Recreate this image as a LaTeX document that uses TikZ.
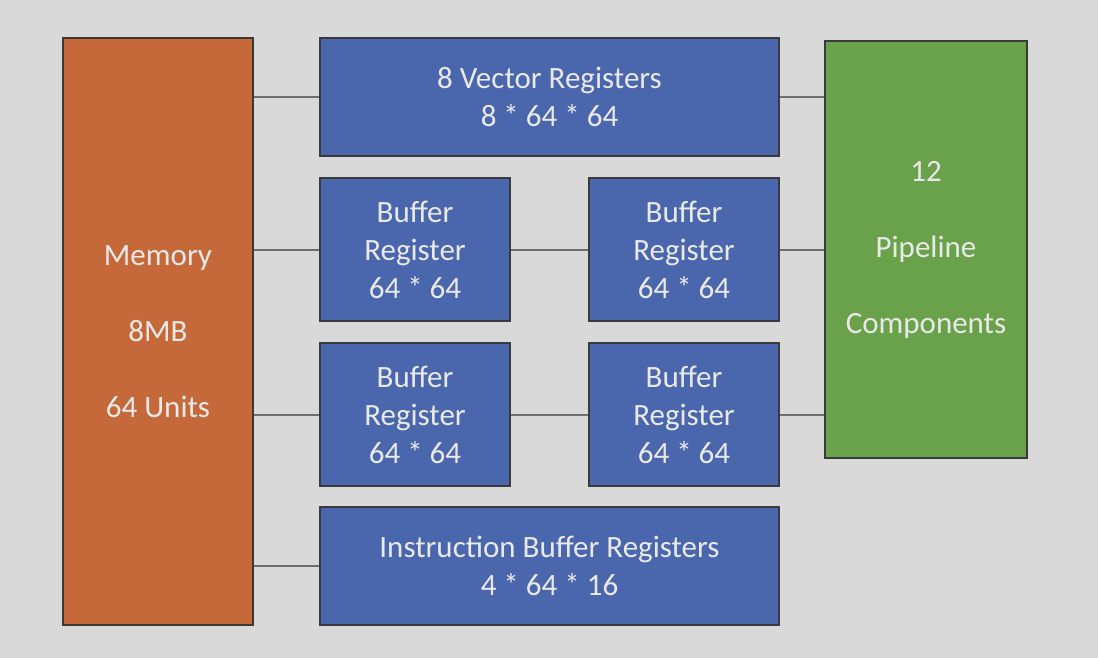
\documentclass[tikz,border=0pt]{standalone}
\usepackage{fontspec}
\setmainfont{Carlito}
\definecolor{bg}{HTML}{D9D9D9}
\definecolor{orangefill}{HTML}{C5693A}
\definecolor{bluefill}{HTML}{4A66AC}
\definecolor{greenfill}{HTML}{69A24A}
\definecolor{txt}{HTML}{E9E9E9}
\definecolor{edge}{HTML}{3A3A3A}
\definecolor{wire}{HTML}{6E6E6E}
\begin{document}
\begin{tikzpicture}[x=0.5pt,y=-0.5pt,
  box/.style={draw=edge, line width=0.75pt, inner sep=0pt, text=txt, align=center,
    font=\fontsize{15.5pt}{19pt}\selectfont},
  mem/.style={box, fill=orangefill, minimum width=95pt, minimum height=293.5pt},
  wide/.style={box, fill=bluefill, minimum width=229.5pt, minimum height=59pt},
  buf/.style={box, fill=bluefill, minimum width=95pt, minimum height=71.5pt},
  pipe/.style={box, fill=greenfill, minimum width=101pt, minimum height=208.5pt},
  wire/.style={draw=wire, line width=1pt}]
\fill[bg] (0,0) rectangle (1098,658);
\useasboundingbox (0,0) rectangle (1098,658);
\node[mem] (mem) at (158,331.5) {Memory\\[19pt]8MB\\[19pt]64 Units};
\node[wide] (vec) at (549.5,97) {8 Vector Registers\\8 * 64 * 64};
\node[buf] (b1) at (415,249.5) {Buffer\\Register\\64 * 64};
\node[buf] (b2) at (684,249.5) {Buffer\\Register\\64 * 64};
\node[buf] (b3) at (415,414.5) {Buffer\\Register\\64 * 64};
\node[buf] (b4) at (684,414.5) {Buffer\\Register\\64 * 64};
\node[wide] (ins) at (549.5,566) {Instruction Buffer Registers\\4 * 64 * 16};
\node[pipe] (gr) at (926,249.5) {12\\[19pt]Pipeline\\[19pt]Components};
\draw[wire] (mem.east |- vec.west) -- (vec.west);
\draw[wire] (mem.east |- b1.west) -- (b1.west);
\draw[wire] (mem.east |- b3.west) -- (b3.west);
\draw[wire] (mem.east |- ins.west) -- (ins.west);
\draw[wire] (b1.east) -- (b2.west);
\draw[wire] (b3.east) -- (b4.west);
\draw[wire] (vec.east) -- (vec.east -| gr.west);
\draw[wire] (b2.east) -- (b2.east -| gr.west);
\draw[wire] (b4.east) -- (b4.east -| gr.west);
\end{tikzpicture}
\end{document}
